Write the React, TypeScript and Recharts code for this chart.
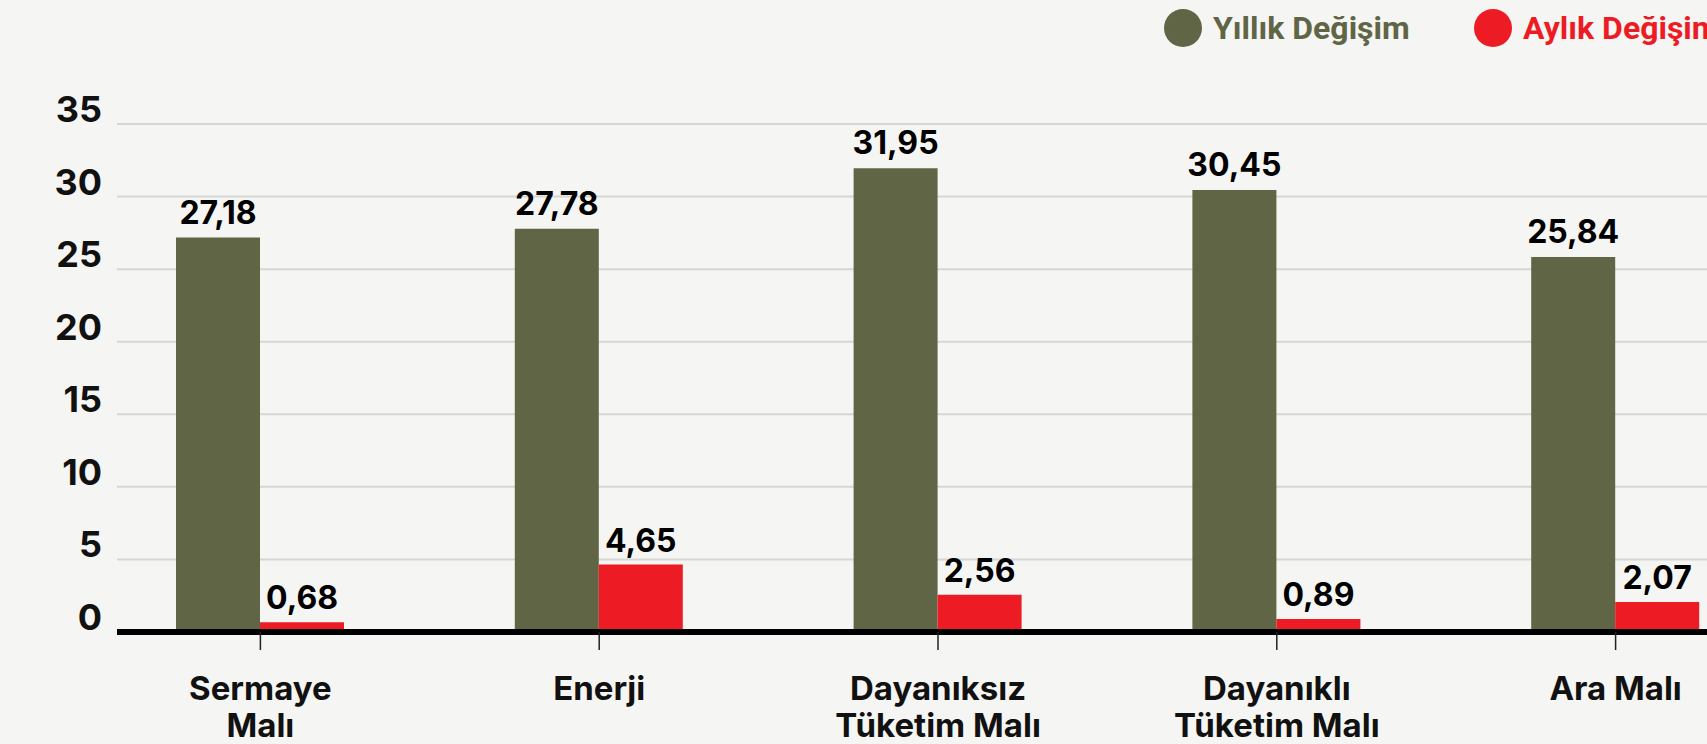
import React from 'react';
import { BarChart, Bar, XAxis, YAxis, CartesianGrid, LabelList } from 'recharts';

const categories = ['Sermaye\nMalı', 'Enerji', 'Dayanıksız\nTüketim Malı', 'Dayanıklı\nTüketim Malı', 'Ara Malı'];
const yillikDegisim = [27.18, 27.78, 31.95, 30.45, 25.84];
const aylikDegisim = [0.68, 4.65, 2.56, 0.89, 2.07];
const yTicks = [0, 5, 10, 15, 20, 25, 30, 35];
const seriesNames = ['Yıllık Değişim', 'Aylık Değişim'];

const GREEN = '#606645';
const RED = '#ed1c24';
const BG = '#f5f5f3';
const FONT = 'Inter, "Open Sans", sans-serif';

const data = categories.map((name, i) => ({
  name,
  yillik: yillikDegisim[i],
  aylik: aylikDegisim[i],
}));

const fmt = (v: any) => Number(v).toFixed(2).replace('.', ',');

const XTick = (props: any) => {
  const { x, y, payload } = props;
  const lines = String(payload.value).split('\n');
  return (
    <text x={x} y={y} textAnchor="middle" fontFamily={FONT} fontWeight={700} fontSize={33} fill="#111">
      {lines.map((l, i) => (
        <tspan key={i} x={x} dy={i === 0 ? 50 : 37}>{l}</tspan>
      ))}
    </text>
  );
};

const YTick = (props: any) => {
  const { x, y, payload } = props;
  return (
    <text x={x} y={y - 2} textAnchor="end" fontFamily={FONT} fontWeight={700} fontSize={36} fill="#111">
      {payload.value}
    </text>
  );
};

const Legend = () => {
  const colors = [GREEN, RED];
  const lefts = [1164, 1474];
  return (
    <>
      {seriesNames.map((s, i) => (
        <div
          key={s}
          style={{
            position: 'absolute',
            left: lefts[i],
            top: 9,
            display: 'flex',
            alignItems: 'center',
            whiteSpace: 'nowrap',
          }}
        >
          <div style={{ width: 38, height: 38, borderRadius: '50%', background: colors[i], marginRight: 11 }} />
          <span style={{ fontFamily: 'Roboto, sans-serif', fontWeight: 700, fontSize: 32, color: colors[i] }}>{s}</span>
        </div>
      ))}
    </>
  );
};

export default function App() {
  return (
    <div
      style={{
        position: 'fixed',
        left: 0,
        top: 0,
        width: 1707,
        height: 744,
        overflow: 'hidden',
        background: BG,
      }}
    >
      <BarChart
        width={1790}
        height={744}
        data={data}
        margin={{ top: 124, right: 5, left: 0, bottom: 0 }}
        barGap={0}
        barSize={84}
      >
        <CartesianGrid vertical={false} stroke="#d6d6d4" strokeWidth={2} />
        <YAxis
          width={117}
          domain={[0, 35]}
          ticks={yTicks}
          axisLine={false}
          tickLine={false}
          tickSize={0}
          tickMargin={15}
          tick={<YTick />}
          interval={0}
        />
        <XAxis
          dataKey="name"
          height={112}
          padding={{ left: -26, right: 0 }}
          axisLine={{ stroke: '#000', strokeWidth: 6 }}
          tickLine={{ stroke: '#222', strokeWidth: 1.5 }}
          tickSize={18}
          tickMargin={0}
          tick={<XTick />}
          interval={0}
        />
        <Bar dataKey="yillik" name={seriesNames[0]} fill={GREEN} isAnimationActive={false}>
          <LabelList
            dataKey="yillik"
            position="top"
            offset={14}
            formatter={fmt}
            style={{ fontFamily: FONT, fontWeight: 700, fontSize: 32, fill: '#000' }}
          />
        </Bar>
        <Bar dataKey="aylik" name={seriesNames[1]} fill={RED} isAnimationActive={false}>
          <LabelList
            dataKey="aylik"
            position="top"
            offset={13}
            formatter={fmt}
            style={{ fontFamily: FONT, fontWeight: 700, fontSize: 32, fill: '#000' }}
          />
        </Bar>
      </BarChart>
      <Legend />
    </div>
  );
}
